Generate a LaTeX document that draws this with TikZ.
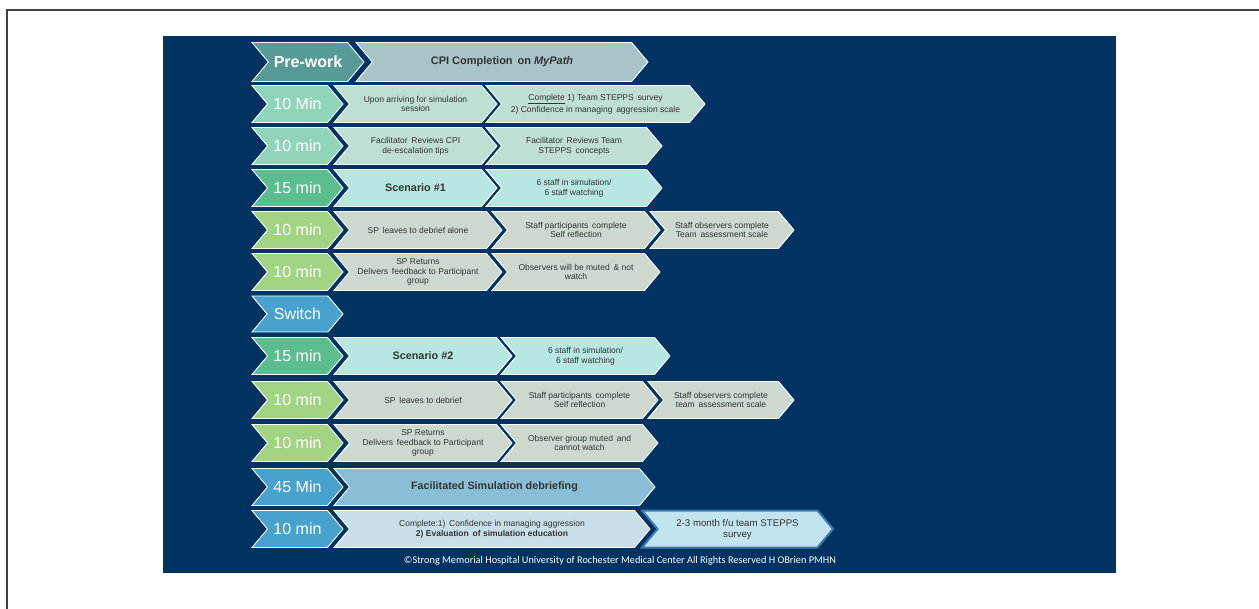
\documentclass[tikz,border=0pt]{standalone}
\usepackage{fontspec}
\setmainfont{Liberation Sans}
\newfontfamily\notefont{Carlito}
\usetikzlibrary{shapes.symbols}

\definecolor{panel}{RGB}{0,50,98}
\definecolor{prework}{RGB}{88,155,150}
\definecolor{cpibox}{RGB}{168,196,200}
\definecolor{mint}{RGB}{145,213,185}
\definecolor{sage}{RGB}{190,223,210}
\definecolor{scengreen}{RGB}{92,190,142}
\definecolor{scenbox}{RGB}{184,230,224}
\definecolor{lime}{RGB}{162,212,132}
\definecolor{greybox}{RGB}{205,217,207}
\definecolor{leadblue}{RGB}{72,162,206}
\definecolor{debrief}{RGB}{138,190,214}
\definecolor{finalbox}{RGB}{200,222,232}
\definecolor{surveybox}{RGB}{194,227,240}
\definecolor{surveyrim}{RGB}{62,122,172}

\tikzset{
  chev/.style={signal, signal from=west, signal to=east, signal pointer angle=100,
    draw=white, line width=0.9pt, minimum height=37pt, inner sep=0pt, align=center,
    text=black!80, font=\fontsize{8.5}{9.8}\selectfont},
  tbox/.style={chev, minimum width=91pt, text=white, font=\fontsize{16}{16}\selectfont},
  bigtext/.style={font=\bfseries\fontsize{10.8}{12}\selectfont},
}

\begin{document}
\begin{tikzpicture}[x=1pt,y=-1pt]
  \useasboundingbox (0,0) rectangle (1259,609);
  \fill[panel] (163,36) rectangle (1116,573);
  \draw[line width=1.2pt, black!75] (1259,10) -- (7,10) -- (7,609);

  % pre-work row
  \node (pre) [tbox, fill=prework, minimum width=112pt, minimum height=39pt,
    font=\bfseries\fontsize{16}{16}\selectfont] at (308,62) {Pre-work};
  \node (cpi) [chev, fill=cpibox, minimum width=292pt, minimum height=39pt,
    font=\bfseries\fontsize{11}{12}\selectfont] at (502,62) {CPI Completion\, on \textit{MyPath}};

  % first block
  \node (t2) [tbox, fill=mint] at (297.5,104) {10 Min};
  \node (a2) [chev, fill=sage, minimum width=163pt] at (415.5,104) {Upon arriving for simulation\\session};
  \node (b2) [chev, fill=sage, minimum width=219pt, font=\fontsize{8.5}{12}\selectfont] at (595.5,104) {\underline{Complete} 1) Team STEPPS\, survey\\2) Confidence in managing\, aggression scale};

  \node (t3) [tbox, fill=mint] at (297.5,146) {10 min};
  \node (a3) [chev, fill=sage, minimum width=163pt] at (415.5,146) {Facilitator\, Reviews CPI\\de-escalation tips};
  \node (b3) [chev, fill=sage, minimum width=176pt] at (574,146) {Facilitator\, Reviews Team\\STEPPS\, concepts};

  \node (t4) [tbox, fill=scengreen] at (297.5,188) {15 min};
  \node (a4) [chev, bigtext, fill=scenbox, minimum width=163pt] at (415.5,188) {Scenario \#1};
  \node (b4) [chev, fill=scenbox, minimum width=176pt] at (574,188) {6 staff in simulation/\\6 staff watching};

  \node (t5) [tbox, fill=lime] at (297.5,230) {10 min};
  \node (a5) [chev, fill=greybox, minimum width=168pt] at (418,230) {SP\, leaves to debrief alone};
  \node (b5) [chev, fill=greybox, minimum width=168pt] at (576,230) {Staff participants\, complete\\Self reflection};
  \node (c5) [chev, fill=greybox, minimum width=144pt] at (722,230) {Staff observers complete\\Team\, assessment scale};

  \node (t6) [tbox, fill=lime] at (297.5,272) {10 min};
  \node (a6) [chev, fill=greybox, minimum width=168pt] at (418,272) {SP Returns\\Delivers\, feedback to Participant\\group};
  \node (b6) [chev, fill=greybox, minimum width=168pt] at (576,272) {Observers will be muted\, \& not\\watch};

  % switch
  \node (t7) [tbox, fill=leadblue, minimum height=36pt] at (297.5,314) {Switch};

  % second block
  \node (t8) [tbox, fill=scengreen] at (297.5,356) {15 min};
  \node (a8) [chev, bigtext, fill=scenbox, minimum width=178pt] at (423,356) {Scenario \#2};
  \node (b8) [chev, fill=scenbox, minimum width=169pt] at (585.5,356) {6 staff in simulation/\\6 staff watching};

  \node (t9) [tbox, fill=lime] at (297.5,400) {10 min};
  \node (a9) [chev, fill=greybox, minimum width=178pt] at (423,400) {SP\, leaves to debrief};
  \node (b9) [chev, fill=greybox, minimum width=157pt] at (579.5,400) {Staff participants\, complete\\Self reflection};
  \node (c9) [chev, fill=greybox, minimum width=146pt] at (721,400) {Staff observers complete\\team\, assessment scale};

  \node (t10) [tbox, fill=lime] at (297.5,443) {10 min};
  \node (a10) [chev, fill=greybox, minimum width=178pt] at (423,443) {SP Returns\\Delivers\, feedback to Participant\\group};
  \node (b10) [chev, fill=greybox, minimum width=157pt] at (579.5,443) {Observer group muted\, and\\cannot watch};

  \node (t11) [tbox, fill=leadblue] at (297.5,487) {45 Min};
  \node (a11) [chev, fill=debrief, minimum width=321pt,
    font=\bfseries\fontsize{10.8}{12}\selectfont] at (494.5,487) {Facilitated Simulation debriefing};

  \node (t12) [tbox, fill=leadblue] at (297.5,529) {10 min};
  \node (a12) [chev, fill=finalbox, minimum width=316pt] at (492,529) {Complete:1)\, Confidence in managing aggression\\\textbf{2) Evaluation\, of simulation education}};
  \node (b12) [chev, draw=surveyrim, line width=2pt, fill=surveybox, minimum width=191pt,
    font=\fontsize{9.7}{11}\selectfont] at (737.5,529) {2-3 month f/u team STEPPS\\survey};

  \node (note) [text=white, font=\notefont\fontsize{10.3}{11}\selectfont] at (620,561)
    {©Strong Memorial Hospital University of Rochester Medical Center All Rights Reserved H OBrien PMHN};
\end{tikzpicture}
\end{document}
